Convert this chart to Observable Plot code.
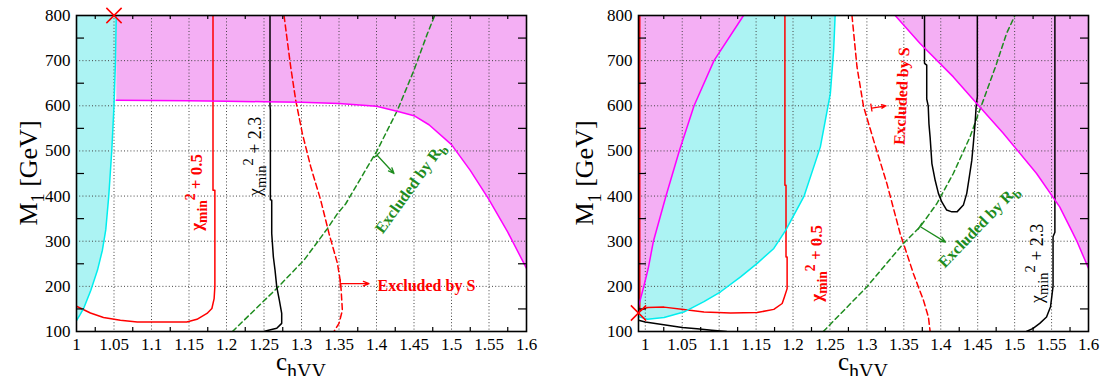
<!DOCTYPE html>
<html><head><meta charset="utf-8">
<script src="https://cdn.jsdelivr.net/npm/d3@7"></script>
<script src="https://cdn.jsdelivr.net/npm/@observablehq/plot@0.6"></script>
<style>
body{margin:0;background:#fff;}
#wrap{display:flex;width:1100px;height:376px;overflow:hidden;}
svg{display:block;}
#wrap svg, #wrap svg text, #wrap svg tspan{font-family:"Liberation Serif","Times New Roman",serif !important;}
</style></head><body><div id="wrap"></div>
<script>
// ---------- axis ticks ----------
const xTicks = [1, 1.05, 1.1, 1.15, 1.2, 1.25, 1.3, 1.35, 1.4, 1.45, 1.5, 1.55, 1.6];
const xMinor = [1.025, 1.075, 1.125, 1.175, 1.225, 1.275, 1.325, 1.375, 1.425, 1.475, 1.525, 1.575];
const yTicks = [100, 200, 300, 400, 500, 600, 700, 800];
const yMinor = [150, 250, 350, 450, 550, 650, 750];

// ---------- left panel ----------
const leftCyanC = [1.0, 1.005, 1.01, 1.019, 1.028, 1.0345, 1.039, 1.043, 1.047, 1.05, 1.052, 1.053];
const leftCyanM = [124, 138, 153, 191, 236, 280, 325, 400, 500, 600, 700, 800];
const leftMagC = [1.053, 1.053, 1.15, 1.2, 1.25, 1.3, 1.35, 1.4, 1.43, 1.45, 1.47, 1.5, 1.525, 1.55, 1.575, 1.6];
const leftMagM = [800, 612, 611, 610, 609, 608, 605, 599, 587, 578, 558, 514, 457, 392, 320, 240];
const leftRedC = [1.0, 1.0186, 1.036, 1.0585, 1.081, 1.147, 1.1606, 1.174, 1.1805, 1.1835, 1.1845, 1.1845, 1.182, 1.182];
const leftRedM = [156, 141, 131, 125, 121, 121, 127, 140, 151, 173, 200, 413, 413, 800];
const leftBlackC = [1.258, 1.258, 1.2585, 1.2585, 1.2603, 1.2603, 1.2625, 1.2647, 1.267, 1.2705, 1.2736, 1.2736, 1.267, 1.256, 1.25];
const leftBlackM = [800, 600, 590, 392, 391, 317, 265, 236, 199, 169, 140, 118, 107, 103, 100];
const leftSC = [1.2767, 1.2856, 1.2923, 1.3012, 1.3123, 1.3256, 1.3367, 1.3479, 1.3523, 1.3545, 1.35, 1.3433];
const leftSM = [800, 686, 612, 538, 465, 391, 317, 251, 206, 147, 118, 100];
const leftRbC = [1.208, 1.2679, 1.3033, 1.3345, 1.3479, 1.359, 1.4012, 1.4279, 1.45, 1.4679, 1.4776];
const leftRbM = [100, 197, 258, 328, 361, 383, 502, 590, 679, 760, 800];
const leftMarkC = [1.05], leftMarkM = [800];
const leftArrowS = [1.3523, 206, 1.39, 206];
const leftArrowRb = [1.4012, 490, 1.4233, 450];

// ---------- right panel ----------
const rightCyanC = [0.9908, 1.003, 1.0254, 1.052, 1.0794, 1.102, 1.129, 1.1515, 1.174, 1.19, 1.215, 1.237, 1.2505, 1.255, 1.257];
const rightCyanM = [133, 127, 131, 143, 166, 188, 221, 251, 284, 324, 400, 509, 627, 723, 800];
const rightMagLC = [0.9908, 0.998, 1.004, 1.011, 1.028, 1.046, 1.066, 1.093, 1.133];
const rightMagLM = [155, 200, 240, 300, 400, 500, 600, 700, 800];
const rightMagRC = [1.3383, 1.372, 1.417, 1.4487, 1.4846, 1.5297, 1.561, 1.577, 1.5837, 1.6];
const rightMagRM = [800, 738, 664, 605, 539, 450, 376, 324, 302, 240];
const rightRedC = [0.9925, 0.9925, 1.003, 1.0254, 1.052, 1.0794, 1.1155, 1.1515, 1.174, 1.1853, 1.188, 1.192, 1.192, 1.1905, 1.1905, 1.189, 1.189];
const rightRedM = [800, 147, 153, 154, 149, 143, 141, 142, 149, 162, 175, 195, 265, 265, 424, 424, 800];
const rightBlack1C = [0.9908, 1.0, 1.025, 1.05, 1.07, 1.09, 1.11];
const rightBlack1M = [125, 121, 115, 109, 106, 103, 100];
const rightBlackUC = [1.378, 1.378, 1.381, 1.381, 1.383, 1.384, 1.3856, 1.388, 1.3924, 1.3968, 1.4014, 1.408, 1.415, 1.422, 1.4306, 1.4352, 1.4387, 1.442, 1.4441, 1.4464, 1.448, 1.4495, 1.4495];
const rightBlackUM = [800, 694, 690, 615, 600, 560, 530, 472, 435, 406, 387, 369, 365, 365, 380, 406, 443, 479, 516, 560, 600, 620, 800];
const rightBlack2C = [1.5545, 1.5545, 1.552, 1.552, 1.5508, 1.5486, 1.5432, 1.534, 1.525, 1.516];
const rightBlack2M = [800, 320, 310, 200, 184, 155, 132, 118, 107, 100];
const rightSC = [1.2798, 1.2866, 1.2955, 1.309, 1.327, 1.345, 1.363, 1.3766, 1.3833, 1.3856];
const rightSM = [800, 686, 598, 524, 428, 317, 228, 169, 132, 100];
const rightRbC = [1.241, 1.300, 1.3495, 1.3721, 1.3946, 1.417, 1.4396, 1.4576, 1.4757, 1.489, 1.5004];
const rightRbM = [100, 199, 295, 332, 383, 450, 531, 612, 694, 760, 800];
const rightMarkC = [0.9908], rightMarkM = [141];
const rightArrowS = [1.3067, 595, 1.326, 600];
const rightArrowRb = [1.3725, 332, 1.4064, 298];

// ---------- text ----------
const chiHalf = [["χ", 1, 0], ["min", 0.8, 0.28], ["2", 0.8, -0.72], [" + 0.5", 1, 0.44]];
const chiTwo = [["χ", 1, 0], ["min", 0.8, 0.28], ["2", 0.8, -0.72], [" + 2.3", 1, 0.44]];
const exclS = [["Excluded by S", 1, 0]];
const exclRb = [["Excluded by R", 1, 0], ["b", 0.8, 0.3]];
const yTitle = [["M", 1, 0], ["1", 0.7, 0.3], [" [GeV]", 1, -0.3]];
const xTitle = [["c", 1, 0], ["hVV", 0.8, 0.3]];

const RED = "#ff0000", GREEN = "#1e8c1e", CYAN = "#00eeee", MAG = "#ff00ff";
const FONT = '"Liberation Serif", "Times New Roman", serif';
const W = 550, H = 376, MT = 15, MB = 45;
const zip = (cs, ms) => cs.map((c, i) => ({c, m: ms[i]}));

function defsMark(id) {
  return () => {
    const defs = d3.create("svg:defs");
    const pm = defs.append("pattern").attr("id", "pm" + id).attr("width", 2).attr("height", 2).attr("patternUnits", "userSpaceOnUse");
    pm.append("rect").attr("width", 2).attr("height", 2).attr("fill", "#fcdcfc");
    pm.append("rect").attr("width", 1).attr("height", 1).attr("fill", "#e864e8");
    pm.append("rect").attr("x", 1).attr("y", 1).attr("width", 1).attr("height", 1).attr("fill", "#f0a0f0");
    const pc = defs.append("pattern").attr("id", "pc" + id).attr("width", 2).attr("height", 2).attr("patternUnits", "userSpaceOnUse");
    pc.append("rect").attr("width", 2).attr("height", 2).attr("fill", "#d8fafa");
    pc.append("rect").attr("width", 1).attr("height", 1).attr("fill", "#60e8e8");
    pc.append("rect").attr("x", 1).attr("y", 1).attr("width", 1).attr("height", 1).attr("fill", "#a0f0f0");
    return defs.node();
  };
}

function addText(svg, x, y, angle, parts, size, opts = {}) {
  const t = d3.select(svg).append("text")
    .attr("transform", `translate(${x},${y}) rotate(${angle})`)
    .attr("y", opts.baseline ? 0 : 0.33 * size)
    .attr("text-anchor", opts.anchor || "middle")
    .style("font-family", FONT)
    .attr("font-size", size)
    .attr("font-weight", opts.weight || "normal")
    .attr("fill", opts.fill || "black");
  for (const [s, k, dy] of parts) {
    t.append("tspan").attr("dy", dy * size).attr("font-size", size * k).text(s);
  }
}

function panel(o) {
  const pw = W - o.ml - o.mr, ph = H - MT - MB;
  const inX = v => v >= o.xd[0] - 1e-9 && v <= o.xd[1] + 1e-9;
  const xt = xTicks.filter(inX);
  const xg = xt.filter(v => v > o.xd[0] + 1e-6 && v < o.xd[1] - 1e-6);
  const yg = yTicks.filter(v => v > 100 && v < 800);
  const xm = xMinor.filter(inX);
  const lines = (arr) => arr.map(L => Plot.line(L.pts, {x: "c", y: "m", stroke: L.stroke, strokeWidth: L.w || 1.5, strokeDasharray: L.dash, clip: true, curve: "linear"}));
  const arrows = o.arrows.map(A => Plot.arrow([{c1: A.a[0], m1: A.a[1], c2: A.a[2], m2: A.a[3]}], {x1: "c1", y1: "m1", x2: "c2", y2: "m2", stroke: A.stroke, strokeWidth: 1.3, headLength: 7, headAngle: 45}));
  const marks = [
    defsMark(o.id),
    ...o.polys.map(P => Plot.line(P.pts, {x: "c", y: "m", fill: P.fill, stroke: "none", clip: true})),
    Plot.ruleX(xg, {x: d => d, stroke: "#444", strokeWidth: 1, strokeDasharray: "1,2.2"}),
    Plot.ruleY(yg, {y: d => d, stroke: "#444", strokeWidth: 1, strokeDasharray: "1,2.2"}),
    ...lines(o.lines),
    ...arrows,
    Plot.frame({stroke: "black", strokeWidth: 1.6}),
    Plot.tickX(xm, {x: d => d, insetTop: ph - 4, stroke: "black", strokeWidth: 1.2}),
    Plot.tickX(xm, {x: d => d, insetBottom: ph - 4, stroke: "black", strokeWidth: 1.2}),
    Plot.tickY(yMinor, {y: d => d, insetRight: pw - 8, stroke: "black", strokeWidth: 1.2}),
    Plot.tickY(yMinor, {y: d => d, insetLeft: pw - 8, stroke: "black", strokeWidth: 1.2}),
    Plot.axisX(xt, {tickSize: 0, tickPadding: 6, tickFormat: d => String(d), label: null, fontSize: 17}),
    Plot.axisY(yTicks, {tickSize: 0, tickPadding: 6, tickFormat: d => String(d), label: null, fontSize: 17}),
    Plot.dot(o.marks, {x: "c", y: "m", symbol: "times", r: 7, stroke: RED, strokeWidth: 1.5})
  ];
  const chart = Plot.plot({
    width: W, height: H, marginLeft: o.ml, marginRight: o.mr, marginTop: MT, marginBottom: MB,
    x: {domain: o.xd}, y: {domain: [100, 800]},
    style: {fontFamily: FONT, fontSize: "17px", background: "white", color: "black", overflow: "visible"},
    marks
  });
  d3.select(chart).style("font-family", FONT).selectAll("text").style("font-family", FONT);
  const sx = chart.scale("x"), sy = chart.scale("y");
  const X = v => sx.apply(v), Y = v => sy.apply(v);
  for (const A of o.arrows) {
    const x1 = X(A.a[0]), y1 = Y(A.a[1]), x2 = X(A.a[2]), y2 = Y(A.a[3]);
    const len = Math.hypot(x2 - x1, y2 - y1), nx = -(y2 - y1) / len, ny = (x2 - x1) / len;
    d3.select(chart).append("line").attr("x1", x1 - nx * 4).attr("y1", y1 - ny * 4).attr("x2", x1 + nx * 4).attr("y2", y1 + ny * 4)
      .attr("stroke", A.stroke).attr("stroke-width", 1.3);
  }
  for (const T of o.texts) {
    addText(chart, X(T.c), Y(T.m), T.angle, T.parts, T.size, {weight: T.weight, fill: T.fill, anchor: T.anchor});
  }
  addText(chart, o.ytx, (MT + H - MB) / 2, -90, yTitle, 26, {baseline: true});
  addText(chart, (o.ml + W - o.mr) / 2, 370, 0, xTitle, 25, {baseline: true});
  return chart;
}

const leftPanel = panel({
  id: "L", ml: 76, mr: 24, xd: [1, 1.6], ytx: 36.5,
  polys: [
    {pts: [...zip(leftCyanC, leftCyanM), {c: 1.0, m: 800}], fill: "url(#pcL)"},
    {pts: [...zip(leftMagC, leftMagM), {c: 1.6, m: 800}], fill: "url(#pmL)"}
  ],
  lines: [
    {pts: zip(leftSC, leftSM), stroke: RED, dash: "6,3.5"},
    {pts: zip(leftRbC, leftRbM), stroke: GREEN, dash: "5,3.5"},
    {pts: zip(leftRedC, leftRedM), stroke: RED},
    {pts: zip(leftBlackC, leftBlackM), stroke: "black"},
    {pts: zip(leftCyanC, leftCyanM), stroke: CYAN},
    {pts: zip(leftMagC, leftMagM).slice(1), stroke: MAG}
  ],
  arrows: [{a: leftArrowS, stroke: RED}, {a: leftArrowRb, stroke: GREEN}],
  marks: zip(leftMarkC, leftMarkM),
  texts: [
    {c: 1.161, m: 407, angle: -90, parts: chiHalf, size: 17, weight: "bold", fill: RED},
    {c: 1.239, m: 487, angle: -90, parts: chiTwo, size: 18, fill: "black"},
    {c: 1.402, m: 200, angle: 0, parts: exclS, size: 16, weight: "bold", fill: RED, anchor: "start"},
    {c: 1.4453, m: 417, angle: -54, parts: exclRb, size: 16, weight: "bold", fill: GREEN}
  ]
});

const rightPanel = panel({
  id: "R", ml: 88, mr: 12, xd: [0.9908, 1.6], ytx: 43.3,
  polys: [
    {pts: [...zip(rightCyanC, rightCyanM), {c: 0.9908, m: 800}], fill: "url(#pcR)"},
    {pts: [...zip(rightMagLC, rightMagLM), {c: 0.9908, m: 800}], fill: "url(#pmR)"},
    {pts: [...zip(rightMagRC, rightMagRM), {c: 1.6, m: 800}], fill: "url(#pmR)"}
  ],
  lines: [
    {pts: zip(rightSC, rightSM), stroke: RED, dash: "6,3.5"},
    {pts: zip(rightRbC, rightRbM), stroke: GREEN, dash: "5,3.5"},
    {pts: zip(rightRedC, rightRedM), stroke: RED},
    {pts: zip(rightBlack1C, rightBlack1M), stroke: "black"},
    {pts: zip(rightBlackUC, rightBlackUM), stroke: "black"},
    {pts: zip(rightBlack2C, rightBlack2M), stroke: "black"},
    {pts: zip(rightCyanC, rightCyanM), stroke: CYAN},
    {pts: zip(rightMagLC, rightMagLM), stroke: MAG},
    {pts: zip(rightMagRC, rightMagRM), stroke: MAG}
  ],
  arrows: [{a: rightArrowS, stroke: RED}, {a: rightArrowRb, stroke: GREEN}],
  marks: zip(rightMarkC, rightMarkM),
  texts: [
    {c: 1.2327, m: 250, angle: -90, parts: chiHalf, size: 17, weight: "bold", fill: RED},
    {c: 1.5305, m: 250, angle: -90, parts: chiTwo, size: 18, fill: "black"},
    {c: 1.3478, m: 620, angle: -87, parts: exclS, size: 16, weight: "bold", fill: RED},
    {c: 1.4515, m: 332, angle: -46, parts: exclRb, size: 16, weight: "bold", fill: GREEN}
  ]
});

const wrap = document.getElementById("wrap");
wrap.appendChild(leftPanel);
wrap.appendChild(rightPanel);
</script>
</body></html>
